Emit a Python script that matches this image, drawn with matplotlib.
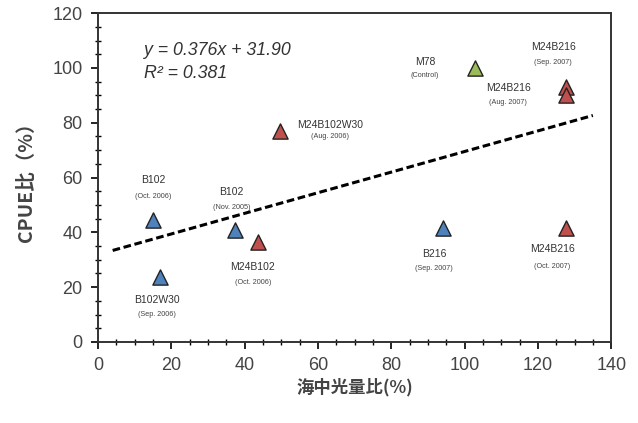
import numpy as np
import matplotlib.pyplot as plt

# data
names = ["B102", "B102W30", "B102", "M24B102", "M24B102W30",
         "B216", "M78", "M24B216", "M24B216", "M24B216"]
dates = ["(Oct. 2006)", "(Sep. 2006)", "(Nov. 2005)", "(Oct. 2006)", "(Aug. 2006)",
         "(Sep. 2007)", "(Control)", "(Sep. 2007)", "(Aug. 2007)", "(Oct. 2007)"]
light = [15.0, 16.8, 37.3, 43.6, 49.7, 94.2, 102.8, 127.7, 127.7, 127.7]
cpue = [44.5, 23.8, 40.8, 36.5, 77.0, 41.6, 100.0, 93.0, 90.0, 41.6]
group = ["B", "B", "B", "M", "M", "B", "C", "M", "M", "M"]

slope = 0.376
intercept = 31.90
r2 = 0.381
fit_x = np.array([4.0, 135.0])

colors = {"B": "#4f81bd", "M": "#c0504d", "C": "#9bbb59"}

# label offsets in pixels (name, date) relative to marker
offsets = [((0, 40), (0, 24)), ((-3, -23), (-3, -38)), ((-3, 38), (-3, 23)),
           ((-5, -25), (-5, -41)), ((50, 6), (50, -6)), ((-9, -26), (-9, -41)),
           ((-50, 6), (-50, -8)), ((-13, 40), (-13, 25)), ((-58, 7), (-58, -7)),
           ((-14, -21), (-14, -39))]

plt.rcParams['font.family'] = ['Liberation Sans', 'Noto Sans CJK JP', 'DejaVu Sans']

fig = plt.figure(figsize=(6.38, 4.23), dpi=100)
ax = fig.add_axes([0.1536, 0.1915, 0.8044, 0.7775])

ax.plot(fit_x, slope * fit_x + intercept, color="black", lw=2.2,
        linestyle=(0, (2.5, 1.2)), zorder=2)

for x, y, g in zip(light, cpue, group):
    ax.scatter(x, y, marker="^", s=120, color=colors[g], edgecolor="#222222",
               linewidth=1.0, zorder=3)

for x, y, n, d, (o1, o2) in zip(light, cpue, names, dates, offsets):
    ax.annotate(n, (x, y), xytext=o1, textcoords="offset pixels",
                ha="center", va="center", fontsize=7.5, color="#333333")
    ax.annotate(d, (x, y), xytext=o2, textcoords="offset pixels",
                ha="center", va="center", fontsize=5.2, color="#444444")

ax.text(12.5, 106.5, "y = %.3fx + %.2f" % (slope, intercept), style="italic",
        fontsize=12.8, color="#333333", va="center")
ax.text(12.5, 98, "R² = %.3f" % r2, style="italic",
        fontsize=12.8, color="#333333", va="center")

ax.set_xlim(0, 140)
ax.set_ylim(0, 120)
ax.set_xticks(np.arange(0, 141, 20))
ax.set_yticks(np.arange(0, 121, 20))
ax.set_xticks(np.arange(0, 141, 5), minor=True)
ax.set_yticks(np.arange(0, 121, 5), minor=True)
ax.tick_params(which="major", direction="out", length=5, width=1.2,
               labelsize=13, labelcolor="#444444", pad=6)
ax.tick_params(which="minor", direction="inout", length=4, width=1.0)
for s in ax.spines.values():
    s.set_linewidth(1.4)
    s.set_color("#333333")

ax.set_xlabel("海中光量比(%)", fontsize=12.5, color="#444444", weight="bold",
              family=["Noto Sans CJK JP"], labelpad=3)
ax.set_ylabel("CPUE比（%）", fontsize=14, color="#444444", weight="bold",
              family=["Noto Sans CJK JP"], labelpad=12)

fig.savefig("out.png", dpi=100)
